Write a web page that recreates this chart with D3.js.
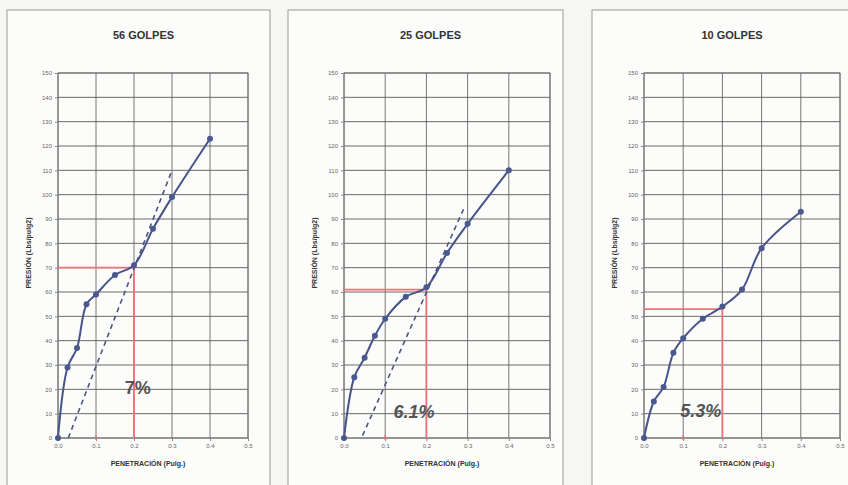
<!DOCTYPE html>
<html>
<head>
<meta charset="utf-8">
<script src="https://cdn.jsdelivr.net/npm/d3@7"></script>
<style>
  body { margin: 0; background: #f6f6f3; }
  text { font-family: Arial, "Liberation Sans", sans-serif; }
</style>
</head>
<body>
<div id="chart"></div>
<script>
// penetracion (pulg) for every test
var penetracion = [0, 0.025, 0.05, 0.075, 0.1, 0.15, 0.2, 0.25, 0.3, 0.4];

var presion56 = [0, 29, 37, 55, 59, 67, 71, 86, 99, 123];
var presion25 = [0, 25, 33, 42, 49, 58, 62, 76, 88, 110];
var presion10 = [0, 15, 21, 35, 41, 49, 54, 61, 78, 93];

var titulos = ["56 GOLPES", "25 GOLPES", "10 GOLPES"];
var cbrLabels = ["7%", "6.1%", "5.3%"];
var presionCorregida = [70, 61, 53];
// dashed tangent: [x0, y0, x1, y1], null when absent
var tangentes = [[0.027, 0, 0.3, 110], [0.045, 1, 0.29, 94], null];
var labelPos = [[0.21, 20], [0.17, 10], [0.145, 10.5]];

var xTicks = [0, 0.1, 0.2, 0.3, 0.4, 0.5];
var yTicks = d3.range(0, 151, 10);

var series = [presion56, presion25, presion10];

// panel frames and plot areas
var panels = [
  {bx: 7, bw: 263, px: 58, pw: 190},
  {bx: 288, bw: 275, px: 344, pw: 206},
  {bx: 592, bw: 270, px: 644, pw: 196}
];
var plotTop = 73, plotBottom = 438;

var svg = d3.select("#chart").append("svg")
  .attr("width", 848)
  .attr("height", 485);

panels.forEach(function(p, i) {
  var g = svg.append("g");

  g.append("rect")
    .attr("x", p.bx).attr("y", 10)
    .attr("width", p.bw).attr("height", 490)
    .attr("fill", "#fcfcfa")
    .attr("stroke", "#9a9a9a")
    .attr("stroke-width", 1);

  var x = d3.scaleLinear().domain([0, 0.5]).range([p.px, p.px + p.pw]);
  var y = d3.scaleLinear().domain([0, 150]).range([plotBottom, plotTop]);

  // grid
  g.append("g").selectAll("line").data(yTicks).join("line")
    .attr("x1", p.px).attr("x2", p.px + p.pw)
    .attr("y1", d => y(d)).attr("y2", d => y(d))
    .attr("stroke", "#444").attr("stroke-width", 0.8);
  g.append("g").selectAll("line").data(xTicks).join("line")
    .attr("x1", d => x(d)).attr("x2", d => x(d))
    .attr("y1", plotTop).attr("y2", plotBottom)
    .attr("stroke", "#555").attr("stroke-width", 0.8);
  g.append("rect")
    .attr("x", p.px).attr("y", plotTop)
    .attr("width", p.pw).attr("height", plotBottom - plotTop)
    .attr("fill", "none").attr("stroke", "#777");

  // axes
  var xAxis = d3.axisBottom(x).tickValues(xTicks).tickFormat(d3.format(".1f")).tickSize(3);
  var yAxis = d3.axisLeft(y).tickValues(yTicks).tickSize(3);
  g.append("g").attr("transform", "translate(0," + plotBottom + ")").call(xAxis)
    .call(a => a.select(".domain").remove())
    .call(a => a.selectAll("line").attr("stroke", "#888"))
    .call(a => a.selectAll("text").attr("font-size", 6).attr("fill", "#666"));
  g.append("g").attr("transform", "translate(" + p.px + ",0)").call(yAxis)
    .call(a => a.select(".domain").remove())
    .call(a => a.selectAll("line").attr("stroke", "#888"))
    .call(a => a.selectAll("text").attr("font-size", 6).attr("fill", "#666"));

  // red reading lines
  var yc = presionCorregida[i];
  g.append("line")
    .attr("x1", x(0)).attr("x2", x(0.2))
    .attr("y1", y(yc)).attr("y2", y(yc))
    .attr("stroke", "#f0707a").attr("stroke-width", 1.8);
  g.append("line")
    .attr("x1", x(0.2)).attr("x2", x(0.2))
    .attr("y1", y(yc)).attr("y2", y(0))
    .attr("stroke", "#f0707a").attr("stroke-width", 1.8);
  g.append("line")
    .attr("x1", x(0.1)).attr("x2", x(0.1))
    .attr("y1", y(0) - 3).attr("y2", y(0) + 2)
    .attr("stroke", "#f0707a").attr("stroke-width", 1.5);

  // tangent
  var t = tangentes[i];
  if (t) {
    g.append("line")
      .attr("x1", x(t[0])).attr("y1", y(t[1]))
      .attr("x2", x(t[2])).attr("y2", y(t[3]))
      .attr("stroke", "#4a5585").attr("stroke-width", 1.6)
      .attr("stroke-dasharray", "5,4");
  }

  // curve
  var pts = penetracion.map((d, k) => [d, series[i][k]]);
  var line = d3.line()
    .x(d => x(d[0])).y(d => y(d[1]))
    .curve(d3.curveCatmullRom.alpha(0.5));
  g.append("path").datum(pts)
    .attr("d", line)
    .attr("fill", "none")
    .attr("stroke", "#465488")
    .attr("stroke-width", 2);
  g.append("g").selectAll("circle").data(pts).join("circle")
    .attr("cx", d => x(d[0])).attr("cy", d => y(d[1]))
    .attr("r", 3)
    .attr("fill", "#4a5890");

  // CBR label
  g.append("text")
    .attr("x", x(labelPos[i][0])).attr("y", y(labelPos[i][1]))
    .attr("text-anchor", "middle")
    .attr("dominant-baseline", "middle")
    .attr("font-size", 18)
    .attr("font-weight", "bold")
    .attr("font-style", i === 0 ? "normal" : "italic")
    .attr("fill", "#555")
    .text(cbrLabels[i]);

  // titles
  g.append("text")
    .attr("x", p.bx + p.bw / 2 + 5).attr("y", 39)
    .attr("text-anchor", "middle")
    .attr("font-size", 11).attr("font-weight", "bold").attr("fill", "#333")
    .text(titulos[i]);
  g.append("text")
    .attr("x", p.px + p.pw / 2 - 5).attr("y", 466)
    .attr("text-anchor", "middle")
    .attr("font-size", 7).attr("font-weight", "bold").attr("fill", "#333")
    .text("PENETRACIÓN (Pulg.)");
  g.append("text")
    .attr("transform", "translate(" + (p.px - 27) + "," + 253 + ") rotate(-90)")
    .attr("text-anchor", "middle")
    .attr("font-size", 7).attr("font-weight", "bold").attr("fill", "#333")
    .text("PRESIÓN (Lbs/pulg2)");
});
</script>
</body>
</html>
